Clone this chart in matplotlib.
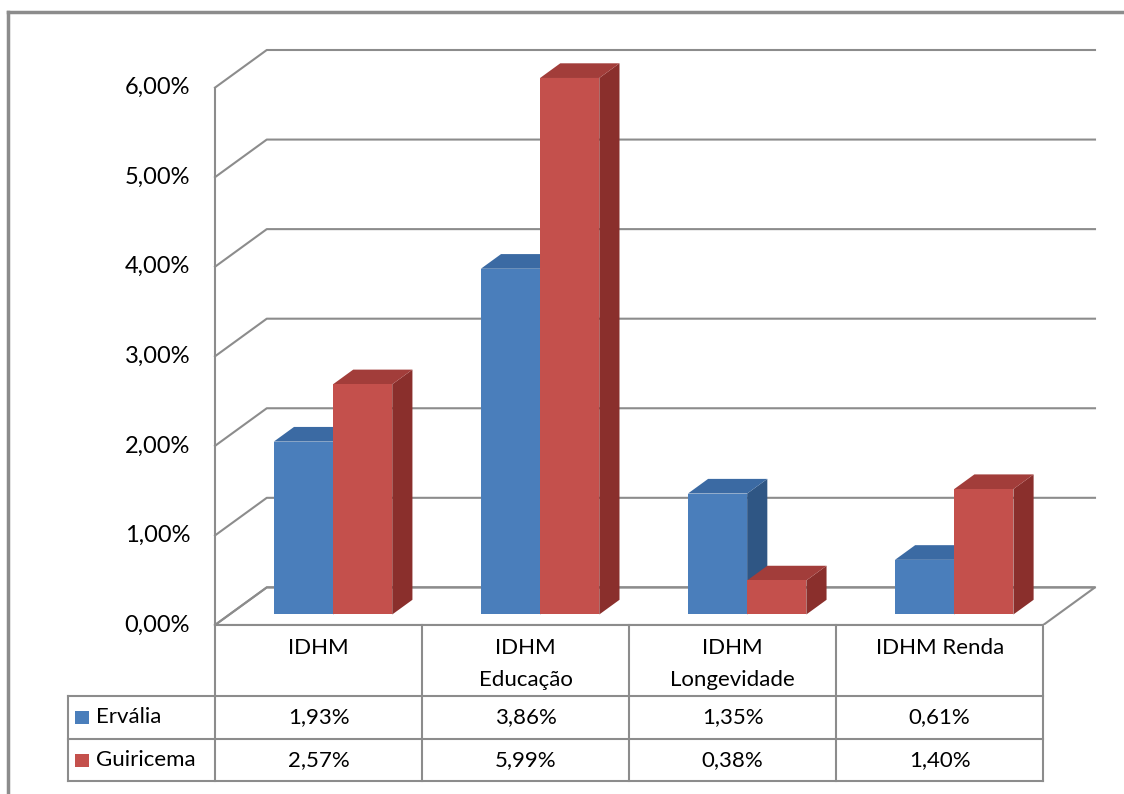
import matplotlib.pyplot as plt
from matplotlib.patches import Polygon, Rectangle
from matplotlib.lines import Line2D

plt.rcParams['font.family'] = ['Lato', 'DejaVu Sans']

categories = ["IDHM", "IDHM\nEducação", "IDHM\nLongevidade", "IDHM Renda"]
series_names = ["Ervália", "Guiricema"]
ervalia = [1.93, 3.86, 1.35, 0.61]
guiricema = [2.57, 5.99, 0.38, 1.40]
yticks = [0, 1, 2, 3, 4, 5, 6]

# colours: front, top, side
colors = {
    "Ervália": ("#4a7ebb", "#3b6aa3", "#2f5684"),
    "Guiricema": ("#c4504c", "#a23d3a", "#8a2f2c"),
}
grid_col = "#8c8c8c"

# oblique projection of the depth axis
DX, DY = 0.25, 0.42
F0, F1 = 0.28, 0.67   # bar depth range (fraction of floor depth)
BW = 0.286            # bar width per series

def proj(x, y, d):
    return (x + d * DX, y + d * DY)

fig = plt.figure(figsize=(11.24, 7.94), dpi=100)
ax = fig.add_axes([215 / 1124, (794 - 625) / 794, 880 / 1124, 575 / 794])
ax.set_xlim(0, len(categories) + DX)
ax.set_ylim(0, max(yticks) + DY)
ax.axis("off")

n = len(categories)

# floor
floor = [proj(0, 0, 0), proj(n, 0, 0), proj(n, 0, 1), proj(0, 0, 1)]
ax.add_patch(Polygon(floor, closed=True, facecolor="white", edgecolor=grid_col, lw=1.5, zorder=1))

# gridlines on side wall + back wall
for v in yticks:
    p0, p1, p2 = proj(0, v, 0), proj(0, v, 1), proj(n, v, 1)
    ax.plot([p0[0], p1[0], p2[0]], [p0[1], p1[1], p2[1]], color=grid_col, lw=1.5, zorder=1, clip_on=False)
    ax.text(-0.12, v, f"{v:.2f}%".replace(".", ","), ha="right", va="center", fontsize=17, clip_on=False)
ax.plot([0, 0], [0, max(yticks)], color=grid_col, lw=1.5, zorder=1, clip_on=False)

# 3d bars
z = 2
for i in range(n):
    for j, (name, vals) in enumerate(zip(series_names, [ervalia, guiricema])):
        x0 = i + 0.5 - BW + j * BW
        x1 = x0 + BW
        h = vals[i]
        fc, tc, sc = colors[name]
        front = [proj(x0, 0, F0), proj(x1, 0, F0), proj(x1, h, F0), proj(x0, h, F0)]
        top = [proj(x0, h, F0), proj(x1, h, F0), proj(x1, h, F1), proj(x0, h, F1)]
        side = [proj(x1, 0, F0), proj(x1, 0, F1), proj(x1, h, F1), proj(x1, h, F0)]
        ax.add_patch(Polygon(side, closed=True, facecolor=sc, edgecolor="none", zorder=z))
        ax.add_patch(Polygon(top, closed=True, facecolor=tc, edgecolor="none", zorder=z))
        ax.add_patch(Polygon(front, closed=True, facecolor=fc, edgecolor="none", zorder=z + 0.5))
        z += 1

# data table below the floor
row_h = [0.79, 0.48, 0.47]
y_hdr = 0
y_r1 = y_hdr - row_h[0]
y_r2 = y_r1 - row_h[1]
y_end = y_r2 - row_h[2]
xl = -0.71
tk = dict(color=grid_col, lw=1.5, clip_on=False, zorder=5)
for x in range(n + 1):
    ax.plot([x, x], [y_hdr, y_end], **tk)
ax.plot([xl, xl], [y_r1, y_end], **tk)
ax.plot([0, n], [y_hdr, y_hdr], **tk)
for yy in [y_r1, y_r2, y_end]:
    ax.plot([xl, n], [yy, yy], **tk)

for i, c in enumerate(categories):
    ax.text(i + 0.5, y_hdr - 0.15, c, ha="center", va="top", fontsize=16, linespacing=1.75, clip_on=False)
for yy, (name, vals) in zip([y_r1, y_r2], zip(series_names, [ervalia, guiricema])):
    yc = yy - 0.24
    for i, v in enumerate(vals):
        ax.text(i + 0.5, yc, f"{v:.2f}%".replace(".", ","), ha="center", va="center", fontsize=16, clip_on=False)
    ax.add_patch(Rectangle((xl + 0.035, yc - 0.075), 0.065, 0.15, facecolor=colors[name][0],
                           edgecolor="none", clip_on=False, zorder=6))
    ax.text(xl + 0.135, yc, name, ha="left", va="center", fontsize=16, clip_on=False)

# outer chart border (top and left visible)
fig.add_artist(Line2D([8 / 1124, 8 / 1124], [0, 1 - 12 / 794], color=grid_col, lw=2.5))
fig.add_artist(Line2D([8 / 1124, 1], [1 - 12 / 794, 1 - 12 / 794], color=grid_col, lw=2.5))

fig.savefig("out.png", dpi=100)
